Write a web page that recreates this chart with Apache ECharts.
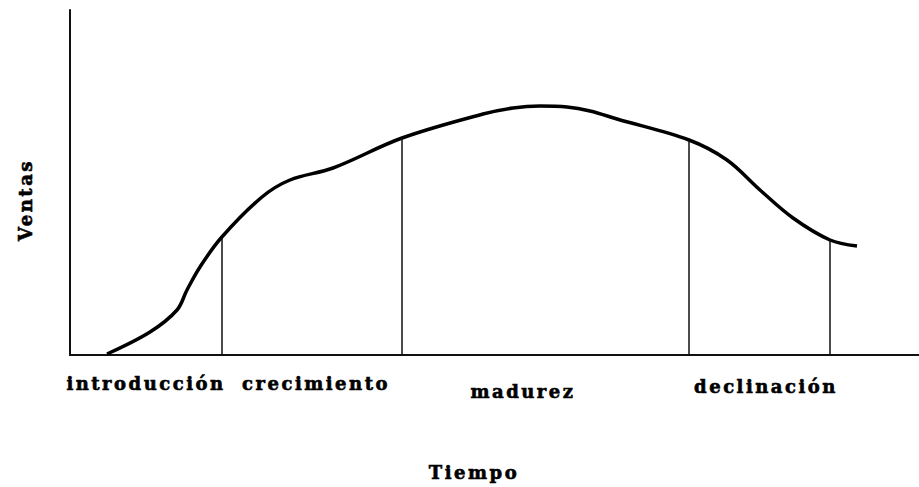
<!DOCTYPE html>
<html>
<head>
<meta charset="utf-8">
<title>Ciclo de vida del producto</title>
<script src="https://cdn.jsdelivr.net/npm/echarts@6/dist/echarts.min.js"></script>
<style>
    html, body { margin: 0; padding: 0; background: #fff; }
    #chart { width: 919px; height: 487px; }
    /* espaciado de letras como en el original */
    #chart text { letter-spacing: 2.5px; }
</style>
</head>
<body>
<div id="chart"></div>
<script>
// tiempo (unidades arbitrarias) y ventas
var tiempo = [37, 80, 107, 117, 130, 151, 192, 220, 263, 332, 413, 443, 470, 497, 520, 547, 619, 657, 690, 723, 760, 787];
var ventas = [1, 23, 45, 65, 88, 117, 158, 175, 187, 217, 241, 247, 249, 248, 244, 236, 215, 195, 165, 137, 115, 109];

// limites entre etapas
var limiteX = [152, 332, 619, 760];
var limiteY = [117, 217, 215, 115];

var etapas = ['introducción', 'crecimiento', 'madurez', 'declinación'];

var myChart = echarts.init(document.getElementById('chart'), null, {renderer: 'svg'});

var fuente = {
    fontFamily: '"DejaVu Serif", serif',
    fontWeight: 'bold',
    fontSize: 18,
    fill: '#000',
    stroke: '#000',
    lineWidth: 0.6,
    align: 'center',
    verticalAlign: 'middle'
};

var option = {
    animation: false,
    backgroundColor: '#fff',
    grid: {
        left: 70,
        right: 0,
        top: 10,
        bottom: 132
    },
    xAxis: {
        type: 'value',
        min: 0,
        max: 849,
        axisLine: {show: true, onZero: false, lineStyle: {color: '#111', width: 2}},
        axisTick: {show: false},
        axisLabel: {show: false},
        splitLine: {show: false}
    },
    yAxis: {
        type: 'value',
        min: 0,
        max: 345,
        axisLine: {show: true, lineStyle: {color: '#111', width: 2}},
        axisTick: {show: false},
        axisLabel: {show: false},
        splitLine: {show: false}
    },
    series: [{
        name: 'Ventas',
        type: 'line',
        smooth: 0.35,
        symbol: 'none',
        lineStyle: {color: '#000', width: 3.5},
        data: tiempo.map(function (t, i) { return [t, ventas[i]]; }),
        markLine: {
            silent: true,
            symbol: 'none',
            label: {show: false},
            lineStyle: {color: '#111', width: 1.5, type: 'solid'},
            data: limiteX.map(function (x, i) {
                return [{coord: [x, 0]}, {coord: [x, limiteY[i]]}];
            })
        }
    }],
    graphic: [
        {type: 'text', x: 146, y: 383, style: Object.assign({text: etapas[0]}, fuente)},
        {type: 'text', x: 316, y: 383, style: Object.assign({text: etapas[1]}, fuente)},
        {type: 'text', x: 523, y: 391, style: Object.assign({text: etapas[2]}, fuente)},
        {type: 'text', x: 766, y: 386, style: Object.assign({text: etapas[3]}, fuente)},
        {type: 'text', x: 474, y: 472, style: Object.assign({text: 'Tiempo'}, fuente)},
        {type: 'text', x: 25, y: 200, rotation: Math.PI / 2, style: Object.assign({text: 'Ventas'}, fuente)}
    ]
};

myChart.setOption(option);
</script>
</body>
</html>
